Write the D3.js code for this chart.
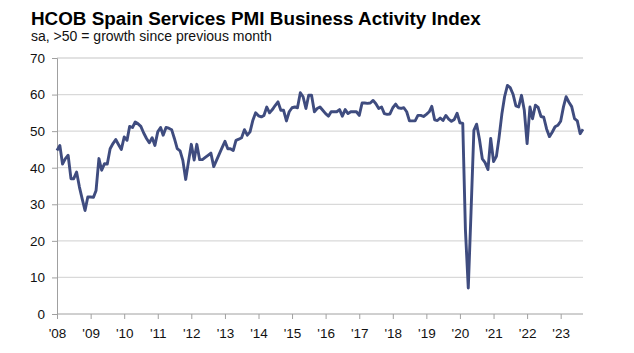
<!DOCTYPE html>
<html lang="en">
<head>
<meta charset="utf-8">
<title>HCOB Spain Services PMI</title>
<script src="https://d3js.org/d3.v7.min.js"></script>
<style>
  body { margin: 0; background: #fff; }
  svg { display: block; font-family: "Liberation Sans", Arial, sans-serif; }
</style>
</head>
<body>
<svg id="chart" width="634" height="353"></svg>
<script>
// monthly index, Jan 2008 onwards
var startYear = 2008
var pmi2008 = [44.7, 46.1, 41.0, 42.5, 43.4, 37.0, 37.0, 38.8, 34.7, 31.5, 28.3, 32.0]
var pmi2009 = [32.0, 31.9, 33.8, 42.5, 39.3, 41.1, 41.0, 45.2, 46.6, 47.7, 46.3, 45.0]
var pmi2010 = [48.4, 47.5, 51.3, 51.0, 52.5, 52.0, 51.3, 49.5, 48.0, 46.8, 48.2, 46.1]
var pmi2011 = [49.8, 51.0, 48.9, 51.0, 50.8, 50.4, 48.0, 45.2, 44.6, 42.0, 36.8, 41.6]
var pmi2012 = [46.4, 42.1, 46.4, 42.2, 42.2, 42.8, 43.4, 44.0, 40.3, 42.0, 43.8, 45.5]
var pmi2013 = [47.2, 45.2, 45.2, 44.7, 47.5, 47.8, 48.2, 50.4, 48.9, 49.8, 53.0, 55.0]
var pmi2014 = [54.2, 53.9, 54.3, 56.6, 55.0, 55.9, 57.0, 58.0, 55.7, 55.7, 52.8, 55.3]
var pmi2015 = [56.4, 56.6, 56.4, 60.5, 59.4, 56.2, 59.8, 59.8, 55.3, 56.2, 56.6, 55.7]
var pmi2016 = [54.8, 54.1, 55.3, 55.3, 55.3, 55.9, 54.1, 55.9, 54.8, 55.3, 55.3, 55.3]
var pmi2017 = [54.3, 57.7, 57.7, 57.6, 57.7, 58.4, 57.5, 56.2, 56.6, 54.8, 54.6, 54.7]
var pmi2018 = [56.4, 57.4, 56.4, 56.2, 56.4, 55.3, 52.8, 52.8, 52.8, 54.3, 54.3, 54.0]
var pmi2019 = [54.6, 55.3, 56.8, 53.1, 52.9, 53.6, 52.9, 54.3, 53.3, 52.7, 53.2, 54.9]
var pmi2020 = [52.3, 52.1, 23.0, 7.1, 27.9, 50.2, 51.9, 47.7, 42.4, 41.4, 39.5, 48.0]
var pmi2021 = [41.7, 43.1, 48.1, 54.6, 59.4, 62.5, 61.9, 60.1, 56.9, 56.6, 59.8, 55.8]
var pmi2022 = [46.6, 56.6, 53.4, 57.1, 56.5, 54.0, 53.8, 50.6, 48.5, 49.7, 51.2, 51.6]
var pmi2023 = [52.7, 56.7, 59.4, 57.9, 56.7, 53.4, 52.8, 49.3, 50.5]

var yTicks = [0, 10, 20, 30, 40, 50, 60, 70]
var xTickLabels = ["'08", "'09", "'10", "'11", "'12", "'13", "'14", "'15", "'16", "'17", "'18", "'19", "'20", "'21", "'22", "'23"]

var values = [].concat(pmi2008, pmi2009, pmi2010, pmi2011, pmi2012, pmi2013, pmi2014,
  pmi2015, pmi2016, pmi2017, pmi2018, pmi2019, pmi2020, pmi2021, pmi2022, pmi2023)
var data = values.map(function(v, i) {
  return {date: new Date(startYear, i, 1), value: v}
})

var svg = d3.select("#chart")
var margin = {left: 57, right: 51, top: 58, bottom: 39}
var W = 634, H = 353

var x = d3.scaleTime()
  .domain([new Date(startYear, 0, 1), new Date(2023, 8, 1)])
  .range([margin.left, W - margin.right])
var y = d3.scaleLinear().domain([0, 70]).range([H - margin.bottom, margin.top])

var gridColor = "#d9d9d9"
var axisColor = "#a0a0a0"
var font = "'Liberation Sans', Arial, sans-serif"

// gridlines
svg.append("g").selectAll("line")
  .data(yTicks.filter(function(d) { return d > 0 }))
  .join("line")
  .attr("x1", margin.left).attr("x2", W - margin.right)
  .attr("y1", function(d) { return y(d) }).attr("y2", function(d) { return y(d) })
  .attr("stroke", gridColor).attr("stroke-width", 1.3)

// y axis
var yAxis = svg.append("g")
  .attr("transform", "translate(" + margin.left + ",0)")
  .call(d3.axisLeft(y).tickValues(yTicks).tickSize(5).tickPadding(7))
yAxis.select(".domain").attr("stroke", axisColor)
yAxis.selectAll(".tick line").attr("stroke", axisColor)
yAxis.selectAll("text").attr("fill", "#111").style("font-size", "13.5px").style("font-family", font)

// x axis
var yearDates = xTickLabels.map(function(d, i) { return new Date(startYear + i, 0, 1) })
var xAxis = svg.append("g")
  .attr("transform", "translate(0," + y(0) + ")")
  .call(d3.axisBottom(x).tickValues(yearDates).tickSize(5).tickPadding(9)
    .tickFormat(function(d, i) { return xTickLabels[i] }))
xAxis.select(".domain").attr("stroke", axisColor).attr("d", "M" + margin.left + ",0H" + (W - margin.right))
xAxis.selectAll(".tick line").attr("stroke", axisColor)
xAxis.selectAll("text").attr("fill", "#111").style("font-size", "13.5px").style("font-family", font)

// line
var line = d3.line()
  .x(function(d) { return x(d.date) })
  .y(function(d) { return y(d.value) })

svg.append("path")
  .datum(data)
  .attr("fill", "none")
  .attr("stroke", "#3f4c7f")
  .attr("stroke-width", 2.9)
  .attr("stroke-linejoin", "round")
  .attr("d", line)

// titles
var title = svg.append("text")
  .attr("x", 31).attr("y", 24.5)
  .attr("font-weight", "bold").attr("font-size", 18.5).attr("fill", "#000")
  .text("HCOB Spain Services PMI Business Activity Index")
var tw = title.node().getComputedTextLength()
title.attr("font-size", 18.5 * 450 / tw)

var sub = svg.append("text")
  .attr("x", 31).attr("y", 40.5)
  .attr("font-size", 12.5).attr("fill", "#111")
  .text("sa, >50 = growth since previous month")
var sw = sub.node().getComputedTextLength()
sub.attr("font-size", 12.5 * 241 / sw)
</script>
</body>
</html>
